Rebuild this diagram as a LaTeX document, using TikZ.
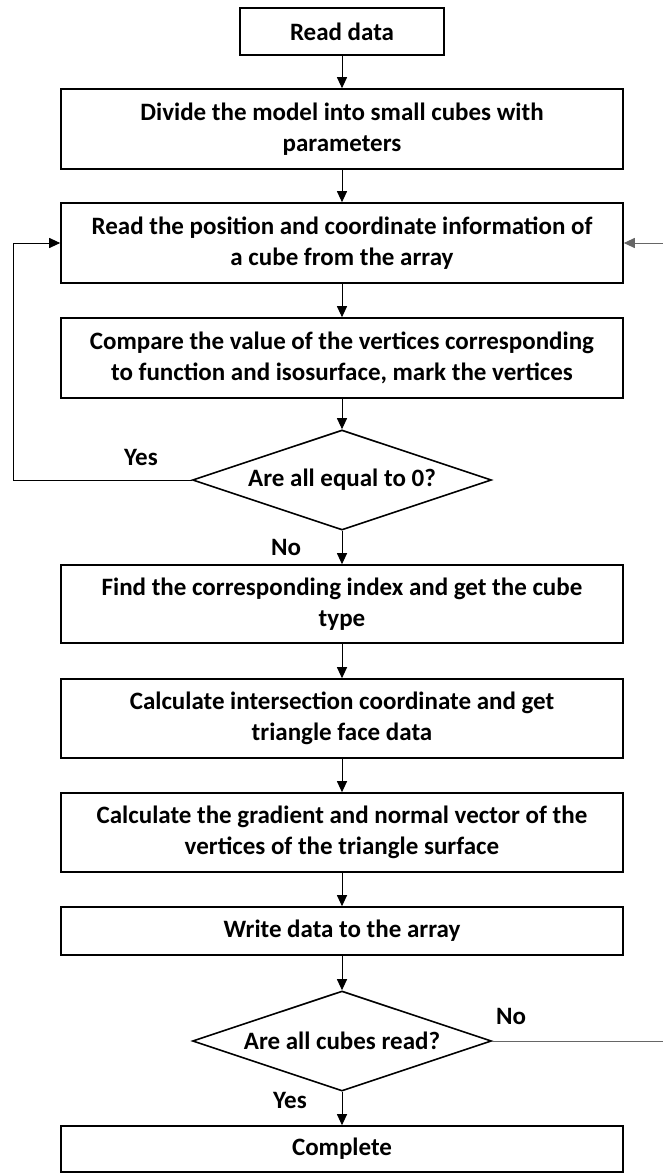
\documentclass[tikz,border=0pt]{standalone}
\usepackage{fontspec}
\setmainfont{Carlito}
\usetikzlibrary{arrows.meta,shapes.geometric}
\begin{document}
\begin{tikzpicture}[x=1pt,y=-1pt,
  txt/.style={font=\fontsize{25}{31}\selectfont\bfseries},
  box/.style={txt,draw,line width=1.6pt,minimum width=562pt,inner sep=0pt,align=center},
  dec/.style={txt,draw,diamond,shape aspect=3,line width=1.6pt,minimum width=299pt,minimum height=100pt,inner sep=0pt,align=center},
  lbl/.style={txt,inner sep=0pt},
  arr/.style={line width=1pt,-{Triangle[length=11pt,width=10pt]}},
  conn/.style={line width=1pt}
]
\useasboundingbox (0,0) rectangle (662,1173);

\node[box,minimum width=204pt,minimum height=47pt] (read) at (342,31.5) {Read data};
\node[box,minimum height=80pt] (divide) at (342,129) {Divide the model into small cubes with\\parameters};
\node[box,minimum height=80pt] (readpos) at (342,243) {Read the position and coordinate information of\\a cube from the array};
\node[box,minimum height=80pt] (compare) at (342,358) {Compare the value of the vertices corresponding\\to function and isosurface, mark the vertices};
\node[dec] (dia1) at (342,480) {Are all equal to 0?};
\node[box,minimum height=78pt] (find) at (342,604) {Find the corresponding index and get the cube\\type};
\node[box,minimum height=79pt] (inter) at (342,718.5) {Calculate intersection coordinate and get\\triangle face data};
\node[box,minimum height=79pt] (grad) at (342,832.5) {Calculate the gradient and normal vector of the\\vertices of the triangle surface};
\node[box,minimum height=48pt] (write) at (342,931) {Write data to the array};
\node[dec] (dia2) at (342,1041) {Are all cubes read?};
\node[box,minimum height=46pt] (complete) at (342,1149) {Complete};

\node[lbl] (yes1) at (141,457) {Yes};
\node[lbl] (no1) at (286,547) {No};
\node[lbl] (no2) at (511,1016) {No};
\node[lbl] (yes2) at (290,1100) {Yes};

\coordinate (L) at (13,480);
\coordinate (R) at (664,1041);

\draw[arr] (read) -- (divide);
\draw[arr] (divide) -- (readpos);
\draw[arr] (readpos) -- (compare);
\draw[arr] (compare) -- (dia1);
\draw[arr] (dia1) -- (find);
\draw[arr] (find) -- (inter);
\draw[arr] (inter) -- (grad);
\draw[arr] (grad) -- (write);
\draw[arr] (write) -- (dia2);
\draw[arr] (dia2) -- (complete);
\draw[arr] (dia1.west) -- (L) |- (readpos.west);
\draw[arr,black!60] (dia2.east) -- (R) |- (readpos.east);
\end{tikzpicture}
\end{document}
